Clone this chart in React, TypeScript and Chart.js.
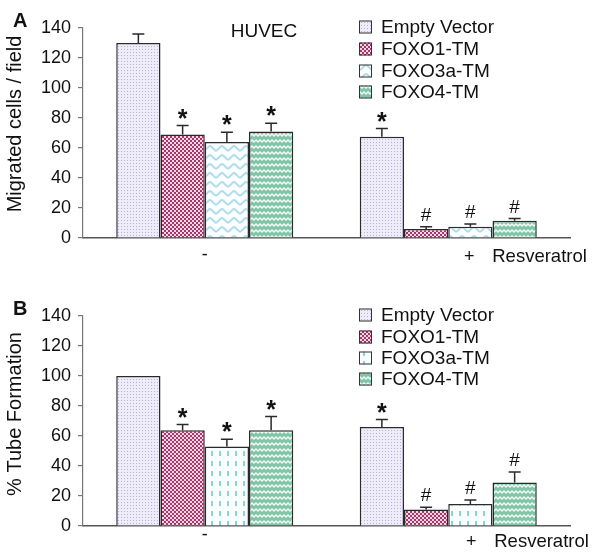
import React, { useEffect, useRef } from 'react';
import { Chart, registerables } from 'chart.js';

Chart.register(...registerables);

// ---------- data ----------
const categories = ['-', '+'];
const seriesNames = ['Empty Vector', 'FOXO1-TM', 'FOXO3a-TM', 'FOXO4-TM'];
const yTickValues = [0, 20, 40, 60, 80, 100, 120, 140];

// Panel A: migrated cells / field
const migEmpty = [130, 67.5];
const migEmptyErr = [6, 5.5];
const migEmptyMark = ['', '*'];
const migFoxo1 = [69, 6];
const migFoxo1Err = [6, 1.5];
const migFoxo1Mark = ['*', '#'];
const migFoxo3a = [64, 7.5];
const migFoxo3aErr = [6.5, 1.8];
const migFoxo3aMark = ['*', '#'];
const migFoxo4 = [71, 11.5];
const migFoxo4Err = [5.5, 1.5];
const migFoxo4Mark = ['*', '#'];

// Panel B: % tube formation
const tubeEmpty = [100, 66];
const tubeEmptyErr = [0, 5];
const tubeEmptyMark = ['', '*'];
const tubeFoxo1 = [63.8, 11];
const tubeFoxo1Err = [3.8, 1.5];
const tubeFoxo1Mark = ['*', '#'];
const tubeFoxo3a = [53, 14.7];
const tubeFoxo3aErr = [4.8, 2.6];
const tubeFoxo3aMark = ['*', '#'];
const tubeFoxo4 = [63.8, 29];
const tubeFoxo4Err = [9.2, 7];
const tubeFoxo4Mark = ['*', '#'];

const FONT = '"Liberation Sans", Arial, Helvetica, sans-serif';

// ---------- patterns ----------
function makePattern(w: number, h: number, draw: (g: CanvasRenderingContext2D) => void) {
  const c = document.createElement('canvas');
  c.width = w;
  c.height = h;
  const g = c.getContext('2d')!;
  draw(g);
  return g.createPattern(c, 'repeat')!;
}

function patternEmpty() {
  return makePattern(3, 3, (g) => {
    g.fillStyle = '#eeecf8';
    g.fillRect(0, 0, 3, 3);
    g.fillStyle = '#b9b1dd';
    g.fillRect(1, 1, 1, 1);
  });
}
function patternFoxo1() {
  return makePattern(4, 4, (g) => {
    g.fillStyle = '#a3386b';
    g.fillRect(0, 0, 4, 4);
    g.fillStyle = '#f7d5e5';
    g.fillRect(0, 0, 2, 2);
    g.fillRect(2, 2, 2, 2);
  });
}
function patternFoxo3aWave() {
  return makePattern(12, 9, (g) => {
    g.fillStyle = '#fbfeff';
    g.fillRect(0, 0, 12, 9);
    g.strokeStyle = '#b0dcec';
    g.lineWidth = 2;
    g.beginPath();
    g.moveTo(-1, 7);
    g.bezierCurveTo(2, 7, 4, 2, 6, 2);
    g.bezierCurveTo(8, 2, 10, 7, 13, 7);
    g.stroke();
  });
}
function patternFoxo3aDash() {
  return makePattern(8, 10, (g) => {
    g.fillStyle = '#f8fdfd';
    g.fillRect(0, 0, 8, 10);
    g.fillStyle = '#96ced8';
    g.fillRect(3, 2, 2, 5);
  });
}
function patternFoxo4() {
  return makePattern(8, 6, (g) => {
    g.fillStyle = '#80c5a7';
    g.fillRect(0, 0, 8, 6);
    g.strokeStyle = '#f4fbf7';
    g.lineWidth = 1.5;
    g.beginPath();
    g.moveTo(-2, 4);
    g.lineTo(0, 2);
    g.lineTo(2, 4);
    g.lineTo(4, 2);
    g.lineTo(6, 4);
    g.lineTo(8, 2);
    g.lineTo(10, 4);
    g.stroke();
  });
}

type PanelSpec = {
  letter: string;
  letterY: number;
  yTitle: string;
  yTitleCenter: number;
  padTop: number;
  padBottom: number;
  legendRows: number[];
  header?: string;
  values: number[][];
  errors: number[][];
  marks: string[][];
  fills: CanvasPattern[];
  minusY: number;
  plusY: number;
  plusDx: number;
};

function buildChart(canvas: HTMLCanvasElement, spec: PanelSpec) {
  const overlay = {
    id: 'overlay',
    afterDatasetsDraw(chart: any) {
      const ctx: CanvasRenderingContext2D = chart.ctx;
      const ys = chart.scales.y;
      ctx.save();
      // error bars + markers
      spec.values.forEach((vals, di) => {
        const meta = chart.getDatasetMeta(di);
        meta.data.forEach((bar: any, ci: number) => {
          const err = spec.errors[di][ci];
          const topV = vals[ci] + err;
          const yTop = ys.getPixelForValue(topV);
          const yBar = ys.getPixelForValue(vals[ci]);
          if (err > 0) {
            ctx.strokeStyle = '#2a2a2a';
            ctx.lineWidth = 1.5;
            ctx.beginPath();
            ctx.moveTo(bar.x, yBar);
            ctx.lineTo(bar.x, yTop);
            ctx.moveTo(bar.x - 6, yTop);
            ctx.lineTo(bar.x + 6, yTop);
            ctx.stroke();
          }
          const m = spec.marks[di][ci];
          ctx.fillStyle = '#111';
          ctx.textAlign = 'center';
          ctx.textBaseline = 'alphabetic';
          if (m === '*') {
            ctx.font = `bold 25px ${FONT}`;
            ctx.fillText('*', bar.x, yTop + 1);
          } else if (m === '#') {
            ctx.font = `19px ${FONT}`;
            ctx.fillText('#', bar.x, yTop - 6);
          }
        });
      });
      ctx.restore();
    },
    afterDraw(chart: any) {
      const ctx: CanvasRenderingContext2D = chart.ctx;
      const xs = chart.scales.x;
      ctx.save();
      ctx.fillStyle = '#111';
      // panel letter
      ctx.font = `bold 20px ${FONT}`;
      ctx.textAlign = 'left';
      ctx.textBaseline = 'middle';
      ctx.fillText(spec.letter, 13, spec.letterY);
      // y title
      ctx.save();
      ctx.translate(15, spec.yTitleCenter);
      ctx.rotate(-Math.PI / 2);
      ctx.font = `20px ${FONT}`;
      ctx.textAlign = 'center';
      ctx.textBaseline = 'middle';
      ctx.fillText(spec.yTitle, 0, 0);
      ctx.restore();
      // header
      if (spec.header) {
        ctx.font = `19px ${FONT}`;
        ctx.textAlign = 'center';
        ctx.textBaseline = 'middle';
        ctx.fillText(spec.header, 264, 32);
      }
      // legend
      ctx.font = `19px ${FONT}`;
      ctx.textAlign = 'left';
      ctx.textBaseline = 'middle';
      spec.legendRows.forEach((ry, i) => {
        ctx.fillStyle = spec.fills[i];
        ctx.fillRect(359, ry - 6.5, 13, 13);
        ctx.strokeStyle = '#333';
        ctx.lineWidth = 1;
        ctx.strokeRect(359.5, ry - 6, 12, 12);
        ctx.fillStyle = '#111';
        ctx.fillText(seriesNames[i], 381, ry + 1);
      });
      // x category labels
      const x0 = xs.getPixelForValue(0);
      const x1 = xs.getPixelForValue(1);
      ctx.font = `18px ${FONT}`;
      ctx.textAlign = 'center';
      ctx.fillText(categories[0], x0, spec.minusY);
      ctx.fillText(categories[1], x1 + spec.plusDx, spec.plusY);
      ctx.textAlign = 'left';
      ctx.font = `18.5px ${FONT}`;
      ctx.fillText('Resveratrol', x1 + spec.plusDx + 23, spec.plusY);
      ctx.restore();
    },
  };

  return new Chart(canvas, {
    type: 'bar',
    data: {
      labels: categories,
      datasets: spec.values.map((vals, i) => ({
        label: seriesNames[i],
        data: vals,
        backgroundColor: spec.fills[i],
        borderColor: '#2a2a2a',
        borderWidth: 1.5,
        borderSkipped: 'bottom',
        categoryPercentage: 0.727,
        barPercentage: 1.0,
      })),
    },
    options: {
      responsive: false,
      animation: false,
      devicePixelRatio: 1,
      layout: {
        padding: { left: 0, right: 30, top: spec.padTop, bottom: spec.padBottom },
      },
      plugins: {
        legend: { display: false },
        tooltip: { enabled: false },
        title: { display: false },
      },
      scales: {
        x: {
          type: 'category',
          grid: { display: true, drawOnChartArea: false, drawTicks: false },
          border: { display: true, color: '#555', width: 1.5 },
          ticks: { display: false },
        },
        y: {
          min: 0,
          max: 140,
          afterBuildTicks: (scale: any) => {
            scale.ticks = yTickValues.map((v) => ({ value: v }));
          },
          afterFit: (scale: any) => {
            scale.width = 83;
          },
          grid: { display: true, drawOnChartArea: false, drawTicks: true, tickLength: 5, color: '#777', lineWidth: 1.2 },
          border: { display: true, color: '#777', width: 1.2 },
          ticks: {
            color: '#111',
            padding: 7,
            font: { family: FONT, size: 18 },
          },
        },
      },
    },
    plugins: [overlay],
  } as any);
}

function Panel({ spec }: { spec: () => PanelSpec }) {
  const ref = useRef<HTMLCanvasElement | null>(null);
  useEffect(() => {
    if (!ref.current) return;
    const chart = buildChart(ref.current, spec());
    return () => chart.destroy();
  }, []);
  return <canvas ref={ref} width={600} height={279} style={{ display: 'block', width: 600, height: 279 }} />;
}

const specA = (): PanelSpec => ({
  letter: 'A',
  letterY: 21,
  yTitle: 'Migrated cells / field',
  yTitleCenter: 124,
  padTop: 28,
  padBottom: 41,
  legendRows: [27, 49, 71, 92],
  header: 'HUVEC',
  values: [migEmpty, migFoxo1, migFoxo3a, migFoxo4],
  errors: [migEmptyErr, migFoxo1Err, migFoxo3aErr, migFoxo4Err],
  marks: [migEmptyMark, migFoxo1Mark, migFoxo3aMark, migFoxo4Mark],
  fills: [patternEmpty(), patternFoxo1(), patternFoxo3aWave(), patternFoxo4()],
  minusY: 255,
  plusY: 257,
  plusDx: 21,
});

const specB = (): PanelSpec => ({
  letter: 'B',
  letterY: 30,
  yTitle: '% Tube Formation',
  yTitleCenter: 135,
  padTop: 37,
  padBottom: 32,
  legendRows: [36, 58, 79, 100],
  values: [tubeEmpty, tubeFoxo1, tubeFoxo3a, tubeFoxo4],
  errors: [tubeEmptyErr, tubeFoxo1Err, tubeFoxo3aErr, tubeFoxo4Err],
  marks: [tubeEmptyMark, tubeFoxo1Mark, tubeFoxo3aMark, tubeFoxo4Mark],
  fills: [patternEmpty(), patternFoxo1(), patternFoxo3aDash(), patternFoxo4()],
  minusY: 256,
  plusY: 263,
  plusDx: 23,
});

export default function App() {
  return (
    <div style={{ position: 'absolute', left: 0, top: 0, width: 600, height: 558, background: '#fff' }}>
      <Panel spec={specA} />
      <Panel spec={specB} />
    </div>
  );
}
